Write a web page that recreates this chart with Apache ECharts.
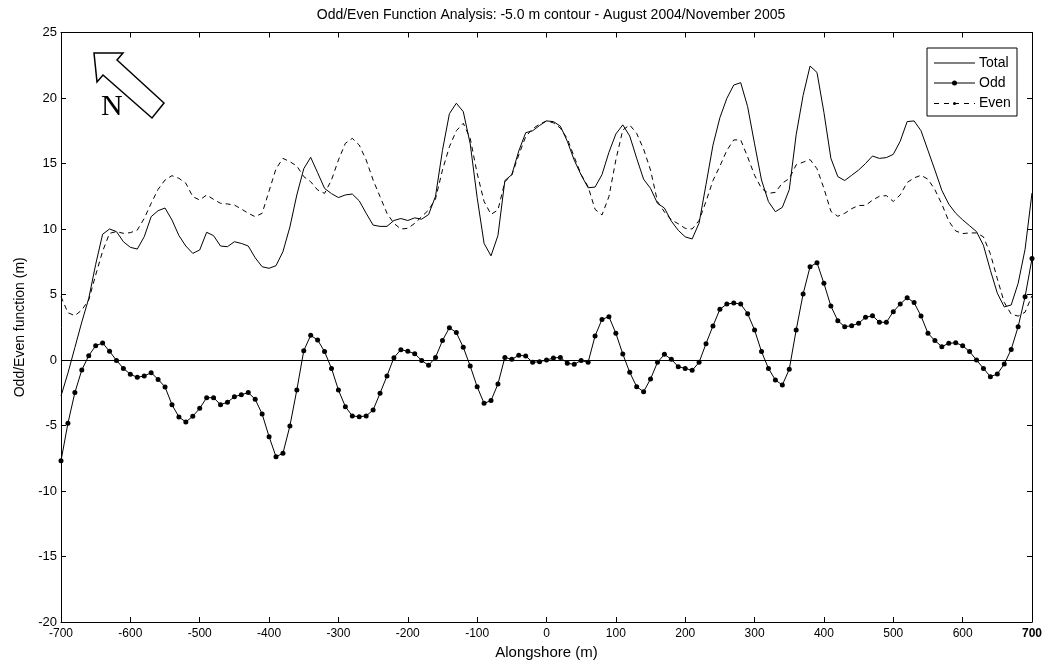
<!DOCTYPE html>
<html>
<head>
<meta charset="utf-8">
<script src="https://cdn.jsdelivr.net/npm/echarts@6/dist/echarts.min.js"></script>
<style>
  html, body { margin: 0; padding: 0; background: #ffffff; }
  #chart { width: 1048px; height: 668px; }
</style>
</head>
<body>
<div id="chart"></div>
<script>
// Alongshore position of each profile (m)
const alongshore = [
  -700, -690, -680, -670, -660, -650, -640, -630, -620, -610,
  -600, -590, -580, -570, -560, -550, -540, -530, -520, -510,
  -500, -490, -480, -470, -460, -450, -440, -430, -420, -410,
  -400, -390, -380, -370, -360, -350, -340, -330, -320, -310,
  -300, -290, -280, -270, -260, -250, -240, -230, -220, -210,
  -200, -190, -180, -170, -160, -150, -140, -130, -120, -110,
  -100,  -90,  -80,  -70,  -60,  -50,  -40,  -30,  -20,  -10,
     0,   10,   20,   30,   40,   50,   60,   70,   80,   90,
   100,  110,  120,  130,  140,  150,  160,  170,  180,  190,
   200,  210,  220,  230,  240,  250,  260,  270,  280,  290,
   300,  310,  320,  330,  340,  350,  360,  370,  380,  390,
   400,  410,  420,  430,  440,  450,  460,  470,  480,  490,
   500,  510,  520,  530,  540,  550,  560,  570,  580,  590,
   600,  610,  620,  630,  640,  650,  660,  670,  680,  690,
   700
];

// Total shoreline change (m)
const total = [
  -2.75, -1.0, 0.95, 2.9, 4.7, 7.3, 9.6, 10.0, 9.8, 9.03,
  8.6, 8.47, 9.41, 10.94, 11.4, 11.6, 10.69, 9.5, 8.7, 8.14,
  8.4, 9.75, 9.49, 8.7, 8.65, 9.03, 8.9, 8.7, 7.8, 7.12,
  7.0, 7.2, 8.27, 10.15, 12.6, 14.6, 15.47, 14.3, 13.1, 12.7,
  12.4, 12.6, 12.67, 12.15, 11.2, 10.3, 10.2, 10.2, 10.65, 10.8,
  10.65, 10.85, 10.75, 11.1, 12.5, 16.0, 18.8, 19.6, 18.96, 16.5,
  12.4, 8.9, 7.95, 9.5, 13.7, 14.15, 15.95, 17.35, 17.5, 17.9,
  18.25, 18.2, 17.85, 16.7, 15.25, 14.12, 13.15, 13.2, 14.15, 15.85,
  17.25, 17.95, 17.1, 15.4, 13.8, 13.1, 11.96, 11.6, 10.6, 9.9,
  9.4, 9.24, 10.45, 13.4, 16.4, 18.5, 19.97, 20.99, 21.17, 19.34,
  16.5, 13.74, 12.09, 11.32, 11.65, 13.0, 17.2, 20.2, 22.44, 21.95,
  18.9, 15.4, 14.0, 13.7, 14.1, 14.5, 15.0, 15.57, 15.39, 15.45,
  15.7, 16.7, 18.2, 18.25, 17.5, 16.0, 14.5, 12.95, 11.9, 11.2,
  10.7, 10.25, 9.8, 8.75, 6.85, 5.1, 4.05, 4.2, 5.85, 8.45,
  12.75
];

// Odd component (m)
const odd = [
  -7.7, -4.83, -2.49, -0.76, 0.33, 1.09, 1.30, 0.66, -0.03, -0.64,
  -1.09, -1.32, -1.22, -0.97, -1.48, -2.06, -3.41, -4.35, -4.73, -4.30,
  -3.69, -2.88, -2.88, -3.41, -3.23, -2.80, -2.65, -2.49, -3.0, -4.12,
  -5.85, -7.38, -7.12, -5.04, -2.29, 0.71, 1.88, 1.53, 0.64, -0.64,
  -2.29, -3.56, -4.27, -4.33, -4.27, -3.82, -2.54, -1.22, 0.18, 0.79,
  0.66, 0.48, -0.03, -0.41, 0.20, 1.48, 2.47, 2.09, 0.97, -0.46,
  -2.04, -3.31, -3.10, -1.83, 0.20, 0.05, 0.36, 0.31, -0.18, -0.13,
  0.0, 0.15, 0.20, -0.25, -0.33, -0.03, -0.18, 1.83, 3.10, 3.31,
  2.04, 0.46, -0.94, -2.04, -2.42, -1.45, -0.18, 0.43, 0.05, -0.51,
  -0.64, -0.79, -0.18, 1.25, 2.60, 3.87, 4.27, 4.35, 4.27, 3.54,
  2.29, 0.64, -0.64, -1.53, -1.91, -0.71, 2.29, 5.04, 7.12, 7.43,
  5.85, 4.12, 3.0, 2.54, 2.62, 2.80, 3.26, 3.38, 2.88, 2.88,
  3.69, 4.27, 4.76, 4.38, 3.36, 2.04, 1.48, 1.02, 1.27, 1.32,
  1.09, 0.64, 0.0, -0.64, -1.27, -1.07, -0.31, 0.81, 2.54, 4.83,
  7.74
];

// Even component (m)
const even = [
  4.83, 3.61, 3.38, 3.82, 4.58, 6.49, 8.3, 9.67, 9.8, 9.67,
  9.72, 9.92, 10.81, 11.96, 13.03, 13.74, 14.07, 13.87, 13.49, 12.47,
  12.21, 12.6, 12.26, 11.96, 11.91, 11.83, 11.53, 11.2, 10.94, 11.2,
  12.9, 14.6, 15.39, 15.14, 14.81, 14.0, 13.61, 12.98, 12.72, 13.74,
  15.27, 16.54, 16.92, 16.41, 15.27, 13.74, 12.47, 11.2, 10.43, 10.0,
  10.05, 10.43, 10.94, 11.45, 12.3, 14.5, 16.28, 17.5, 18.07, 16.92,
  14.25, 12.1, 11.12, 11.45, 13.61, 14.12, 15.65, 17.05, 17.65, 18.0,
  18.25, 18.1, 17.7, 16.9, 15.5, 14.15, 13.23, 11.5, 11.07, 12.47,
  15.27, 17.56, 17.94, 17.3, 16.1, 14.5, 12.1, 11.3, 10.7, 10.4,
  10.05, 10.0, 10.65, 12.1, 13.7, 14.8, 16.0, 16.8, 16.8, 15.5,
  14.1, 13.1, 12.72, 12.8, 13.5, 13.85, 14.9, 15.1, 15.3, 14.6,
  13.1, 11.35, 10.97, 11.2, 11.55, 11.8, 11.8, 12.2, 12.5, 12.55,
  12.1, 12.6, 13.55, 13.9, 14.1, 13.8, 13.0, 11.9, 10.6, 9.85,
  9.65, 9.7, 9.7, 9.4, 8.1, 6.2, 4.4, 3.5, 3.35, 3.65,
  4.9
];

const pairs = (ys) => alongshore.map((x, i) => [x, ys[i]]);

const FONT = "'Liberation Sans', Arial, Helvetica, sans-serif";
const NARROW = "'Liberation Sans Narrow', 'Liberation Sans', Arial, sans-serif";

const chart = echarts.init(document.getElementById('chart'), null, { renderer: 'canvas' });

// axes drawn as a closed box with inward ticks on all four sides
const boxAxis = {
  axisLine: { show: true, onZero: false, lineStyle: { color: '#000', width: 1 } },
  axisTick: { show: true, inside: true, length: 5, lineStyle: { color: '#000', width: 1 } },
  splitLine: { show: false }
};

const option = {
  animation: false,
  backgroundColor: '#ffffff',
  title: {
    text: 'Odd/Even Function Analysis: -5.0 m contour - August 2004/November 2005',
    left: 546, top: 3, textAlign: 'center',
    textStyle: { fontFamily: FONT, fontSize: 14, fontWeight: 'normal', color: '#000' }
  },
  grid: { left: 61, right: 16, top: 32.5, bottom: 46, containLabel: false },
  xAxis: [
    Object.assign({}, boxAxis, {
      type: 'value', min: -700, max: 700, interval: 100, position: 'bottom',
      name: 'Alongshore (m)', nameLocation: 'middle', nameGap: 23,
      nameTextStyle: { fontFamily: NARROW, fontSize: 15, color: '#000' },
      axisLabel: {
        margin: 6, fontFamily: NARROW, fontSize: 12, color: '#000',
        formatter: (v) => (v === 700 ? '{b|700}' : String(v)),
        rich: { b: { fontFamily: NARROW, fontSize: 12, fontWeight: 'bold', color: '#000' } }
      }
    }),
    Object.assign({}, boxAxis, {
      type: 'value', min: -700, max: 700, interval: 100, position: 'top',
      axisLabel: { show: false }
    })
  ],
  yAxis: [
    Object.assign({}, boxAxis, {
      type: 'value', min: -20, max: 25, interval: 5, position: 'left',
      name: 'Odd/Even function (m)', nameLocation: 'middle', nameGap: 32, nameRotate: 90,
      nameTextStyle: { fontFamily: FONT, fontSize: 14, color: '#000' },
      axisLabel: { margin: 4, fontFamily: FONT, fontSize: 13, color: '#000' }
    }),
    Object.assign({}, boxAxis, {
      type: 'value', min: -20, max: 25, interval: 5, position: 'right',
      axisLabel: { show: false }
    })
  ],
  series: [
    {
      name: 'Total', type: 'line', data: pairs(total),
      showSymbol: false, symbol: 'none',
      lineStyle: { color: '#000', width: 1 }, z: 3
    },
    {
      name: 'Odd', type: 'line', data: pairs(odd),
      symbol: 'circle', symbolSize: 5, showSymbol: true,
      itemStyle: { color: '#000' },
      lineStyle: { color: '#000', width: 1 }, z: 4,
      markLine: {
        silent: true, symbol: 'none', animation: false,
        label: { show: false },
        lineStyle: { color: '#000', width: 1, type: 'solid' },
        data: [{ yAxis: 0 }]
      }
    },
    {
      name: 'Even', type: 'line', data: pairs(even),
      showSymbol: false, symbol: 'none',
      lineStyle: { color: '#000', width: 1, type: [5, 4] }, z: 2
    }
  ],
  graphic: [
    // north arrow
    {
      type: 'polygon', z: 10,
      shape: { points: [[94, 53], [123, 53], [117, 60], [164, 103], [152, 118], [103, 75], [97, 82]] },
      style: { fill: '#fff', stroke: '#000', lineWidth: 1.5 }
    },
    {
      type: 'text', z: 10, left: 101, top: 92,
      style: { text: 'N', fontFamily: "'Liberation Serif', 'Times New Roman', serif", fontSize: 30, fill: '#000' }
    },
    // legend box
    {
      type: 'group', z: 20,
      children: [
        { type: 'rect', shape: { x: 927, y: 48, width: 90, height: 68 }, style: { fill: '#fff', stroke: '#000', lineWidth: 1 } },
        { type: 'line', shape: { x1: 934, y1: 63, x2: 975, y2: 63 }, style: { stroke: '#000', lineWidth: 1 } },
        { type: 'text', x: 979, y: 63, style: { text: 'Total', fontFamily: FONT, fontSize: 14, fill: '#000', verticalAlign: 'middle' } },
        { type: 'line', shape: { x1: 934, y1: 83, x2: 975, y2: 83 }, style: { stroke: '#000', lineWidth: 1 } },
        { type: 'circle', shape: { cx: 954.5, cy: 83, r: 2.5 }, style: { fill: '#000' } },
        { type: 'text', x: 979, y: 83, style: { text: 'Odd', fontFamily: FONT, fontSize: 14, fill: '#000', verticalAlign: 'middle' } },
        { type: 'line', shape: { x1: 934, y1: 103.5, x2: 975, y2: 103.5 }, style: { stroke: '#000', lineWidth: 1, lineDash: [5, 5] } },
        { type: 'circle', shape: { cx: 954.5, cy: 103.5, r: 1.5 }, style: { fill: '#000' } },
        { type: 'text', x: 979, y: 103.5, style: { text: 'Even', fontFamily: FONT, fontSize: 14, fill: '#000', verticalAlign: 'middle' } }
      ]
    }
  ]
};

chart.setOption(option);
</script>
</body>
</html>
